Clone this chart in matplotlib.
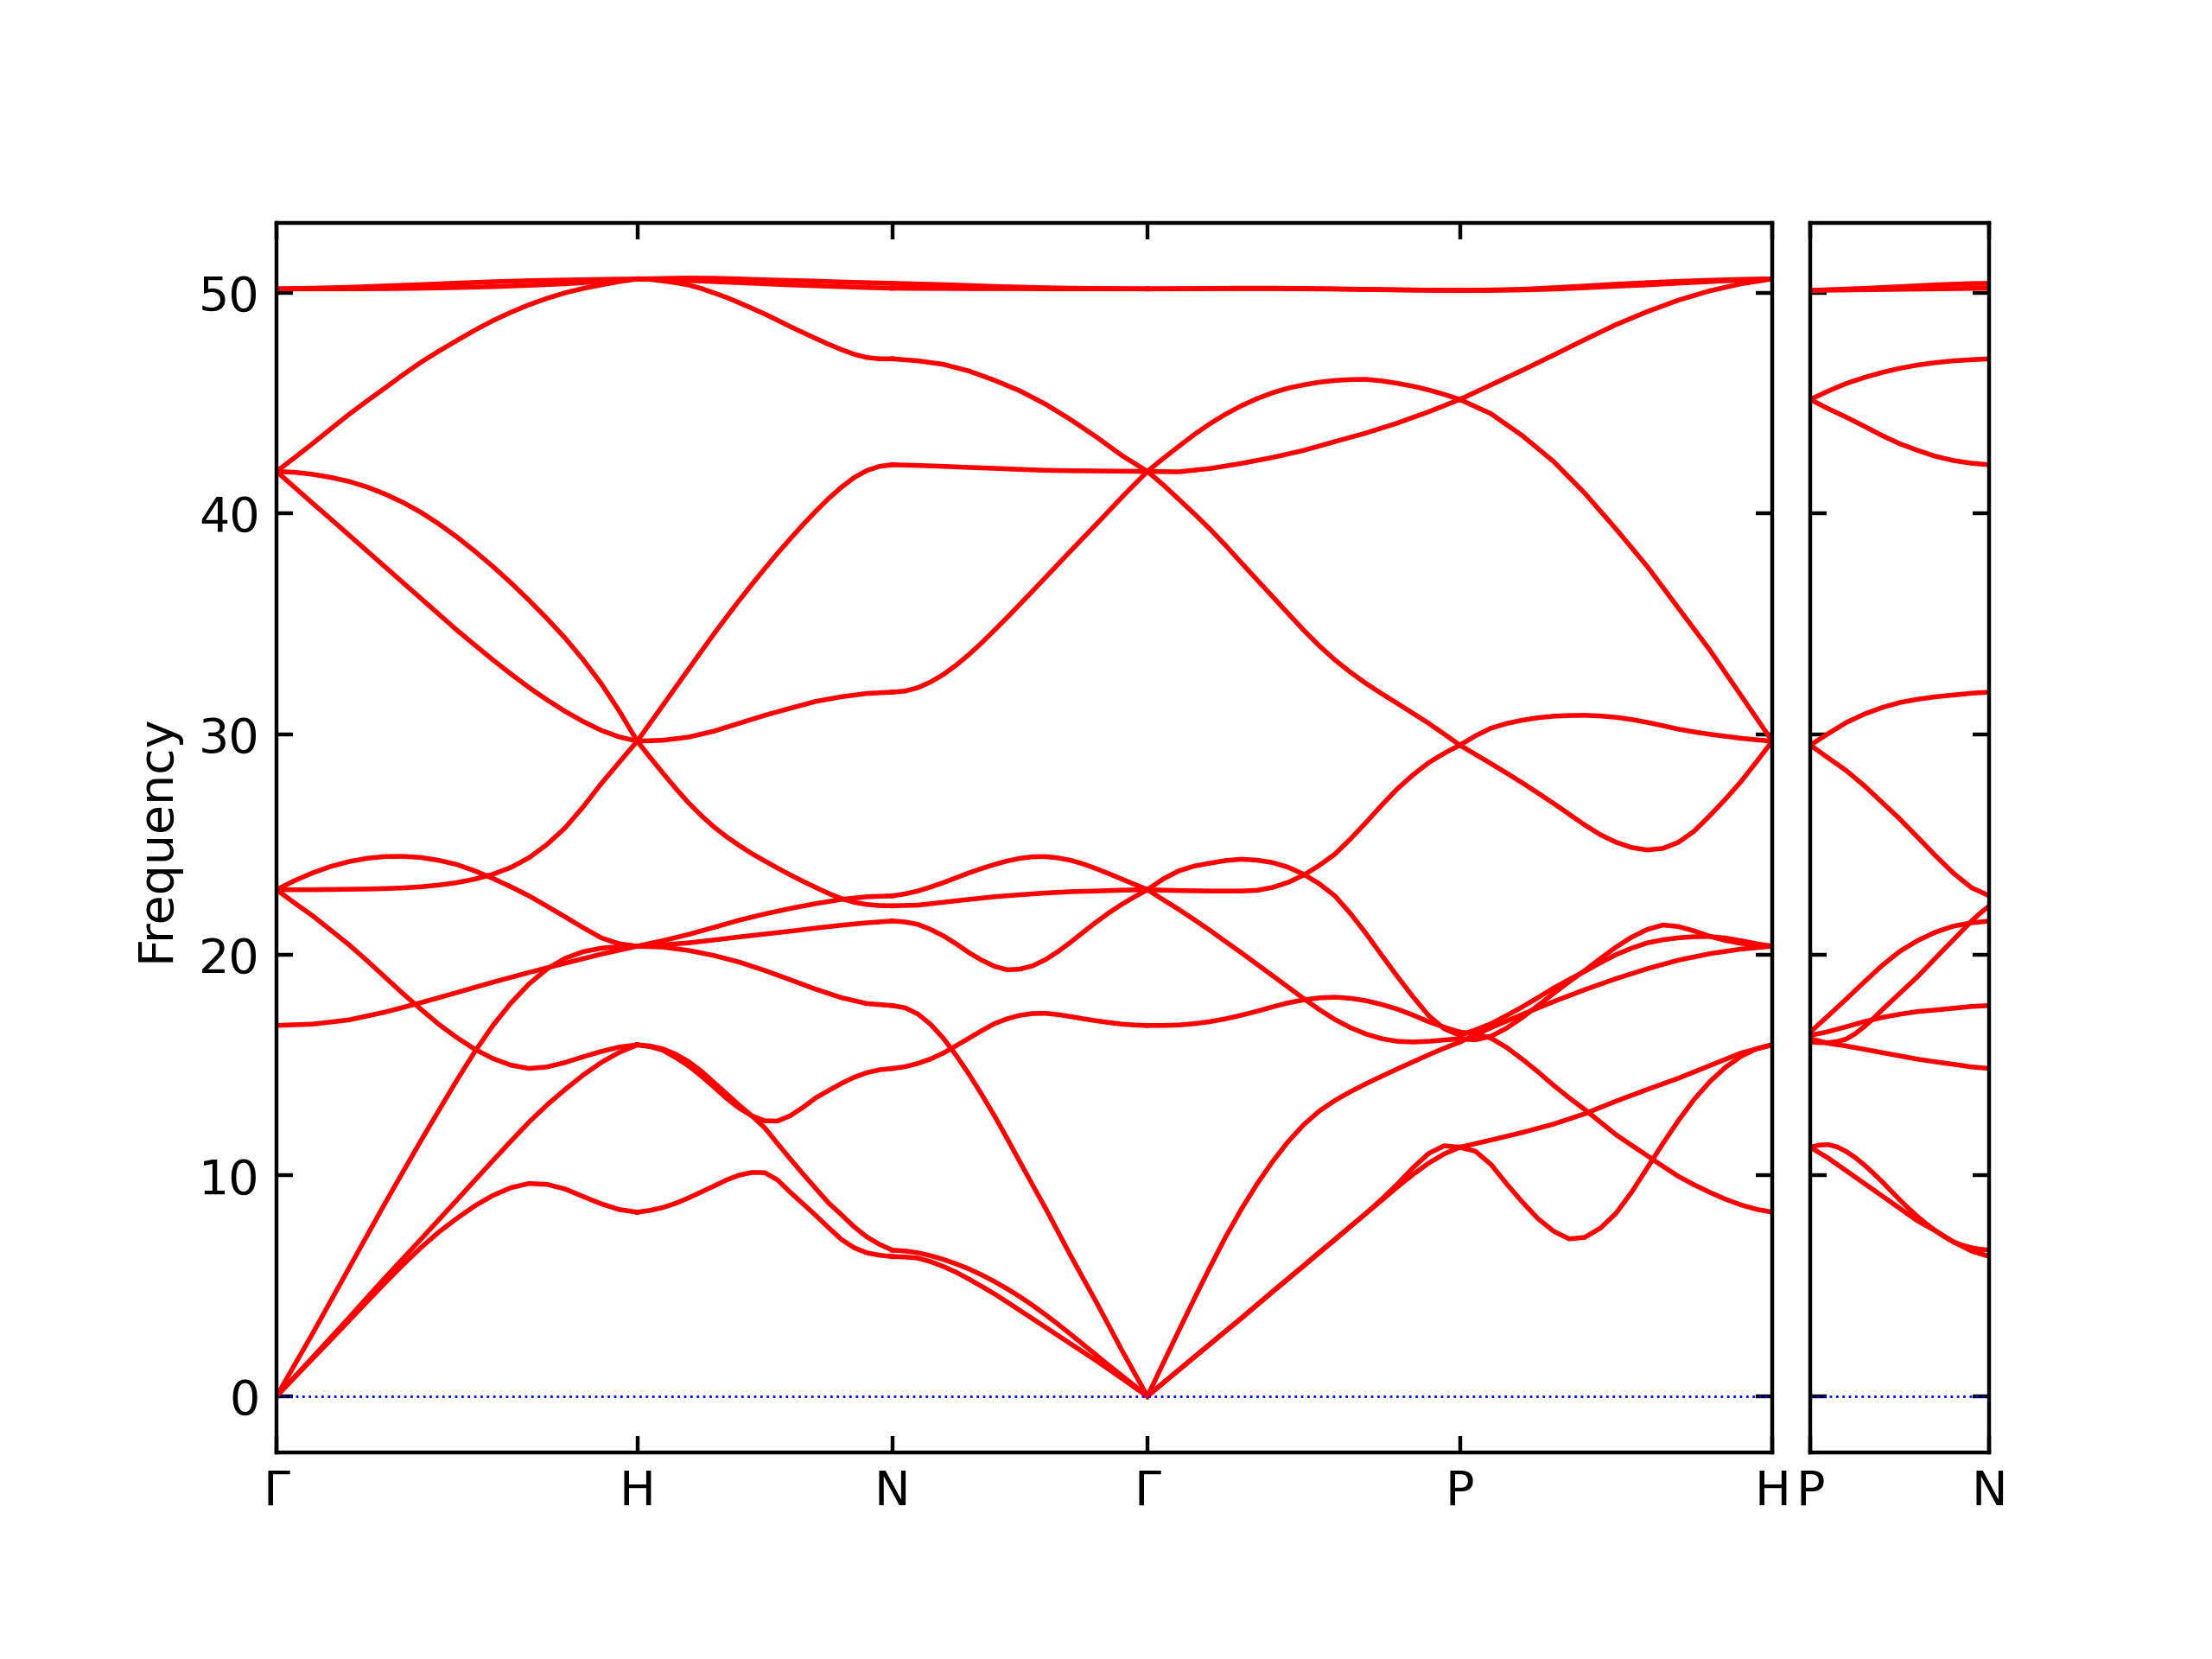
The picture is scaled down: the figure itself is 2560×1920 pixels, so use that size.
import matplotlib
matplotlib.use("Agg")
import matplotlib.pyplot as plt
import numpy as np

# bcc path: Γ-H-N-Γ-P-H | P-N, segment lengths in reciprocal distance
path_labels = ["Γ", "H", "N", "Γ", "P", "H"]
branch_labels = ["P", "N"]
seg_lengths = [1.0, 0.7071, 0.7071, 0.8660, 0.8660]
branch_length = 0.5

# every band is read at evenly spaced points along its segment
# (11 points, or 21 where the curve bends a lot)

G_H = [
    [50.17, 50.20, 50.24, 50.30, 50.36, 50.43, 50.49, 50.54, 50.57, 50.60, 50.62],
    [50.17, 50.17, 50.17, 50.18, 50.20, 50.23, 50.27, 50.33, 50.40, 50.50, 50.62],
    [41.90, 42.52, 43.16, 43.82, 44.47, 45.08, 45.67, 46.27, 46.84, 47.35, 47.83,
     48.30, 48.73, 49.11, 49.45, 49.74, 49.99, 50.19, 50.35, 50.50, 50.62],
    [41.90, 41.86, 41.77, 41.63, 41.45, 41.20, 40.88, 40.50, 40.05, 39.52, 38.93,
     38.28, 37.59, 36.85, 36.06, 35.23, 34.35, 33.37, 32.29, 31.05, 29.68],
    [41.90, 41.18, 40.46, 39.75, 39.03, 38.31, 37.59, 36.87, 36.15, 35.43, 34.71,
     34.03, 33.36, 32.72, 32.11, 31.55, 31.03, 30.57, 30.17, 29.87, 29.68],
    [22.95, 22.95, 22.95, 22.96, 22.97, 22.98, 23.00, 23.03, 23.08, 23.16, 23.27,
     23.43, 23.65, 23.96, 24.40, 25.00, 25.75, 26.70, 27.75, 28.72, 29.68],
    [22.95, 23.36, 23.71, 24.00, 24.22, 24.37, 24.45, 24.46, 24.41, 24.28, 24.09,
     23.80, 23.46, 23.08, 22.67, 22.20, 21.72, 21.23, 20.77, 20.50, 20.39],
    [22.95, 22.35, 21.77, 21.12, 20.47, 19.75, 19.00, 18.25, 17.54, 16.85, 16.25,
     15.72, 15.30, 15.00, 14.85, 14.92, 15.12, 15.38, 15.62, 15.82, 15.92],
    [0.00, 1.42, 2.84, 4.31, 5.78, 7.25, 8.72, 10.15, 11.57, 12.95, 14.32,
     15.62, 16.80, 17.82, 18.68, 19.36, 19.84, 20.14, 20.30, 20.37, 20.39],
    [16.80, 16.86, 17.05, 17.40, 17.83, 18.29, 18.76, 19.20, 19.62, 20.03, 20.39],
    [0.00, 0.88, 1.76, 2.65, 3.54, 4.45, 5.35, 6.23, 7.11, 8.00, 8.89,
     9.79, 10.68, 11.56, 12.42, 13.20, 13.90, 14.55, 15.12, 15.58, 15.92],
    [0.00, 0.85, 1.70, 2.55, 3.41, 4.27, 5.12, 5.95, 6.73, 7.44, 8.06,
     8.63, 9.10, 9.45, 9.64, 9.60, 9.39, 9.05, 8.72, 8.46, 8.34],
]

H_N = [
    [50.62, 50.64, 50.66, 50.65, 50.62, 50.58, 50.55, 50.52, 50.48, 50.45, 50.42],
    [50.62, 50.59, 50.55, 50.50, 50.45, 50.40, 50.35, 50.31, 50.27, 50.23, 50.20],
    [50.62, 50.60, 50.53, 50.45, 50.35, 50.19, 49.99, 49.78, 49.54, 49.29, 49.03,
     48.75, 48.46, 48.19, 47.92, 47.66, 47.42, 47.21, 47.06, 47.00, 47.00],
    [29.68, 30.49, 31.30, 32.11, 32.92, 33.73, 34.53, 35.30, 36.06, 36.79, 37.50,
     38.19, 38.85, 39.49, 40.10, 40.67, 41.18, 41.62, 41.94, 42.13, 42.20],
    [29.68, 29.72, 29.86, 30.13, 30.49, 30.85, 31.17, 31.48, 31.69, 31.84, 31.90],
    [29.68, 28.95, 28.24, 27.55, 26.90, 26.32, 25.80, 25.35, 24.95, 24.58, 24.25,
     23.93, 23.62, 23.33, 23.05, 22.78, 22.55, 22.38, 22.28, 22.23, 22.22],
    [20.39, 20.64, 20.92, 21.24, 21.57, 21.85, 22.10, 22.32, 22.51, 22.63, 22.67],
    [20.39, 20.45, 20.54, 20.67, 20.81, 20.94, 21.07, 21.21, 21.34, 21.45, 21.53],
    [20.39, 20.35, 20.20, 19.97, 19.67, 19.29, 18.87, 18.44, 18.06, 17.79, 17.70],
    [15.92, 15.84, 15.68, 15.35, 14.98, 14.52, 14.02, 13.50, 13.05, 12.70, 12.48,
     12.47, 12.71, 13.09, 13.52, 13.85, 14.17, 14.45, 14.66, 14.79, 14.85],
    [15.92, 15.87, 15.74, 15.50, 15.17, 14.74, 14.22, 13.71, 13.18, 12.70, 12.16,
     11.45, 10.75, 10.07, 9.41, 8.76, 8.23, 7.68, 7.22, 6.88, 6.62],
    [8.34, 8.42, 8.55, 8.74, 8.98, 9.25, 9.52, 9.80, 10.02, 10.14, 10.13,
     9.80, 9.24, 8.72, 8.19, 7.64, 7.11, 6.73, 6.50, 6.39, 6.33],
]

N_G = [
    [50.42, 50.39, 50.36, 50.32, 50.28, 50.25, 50.22, 50.20, 50.19, 50.18, 50.17],
    [50.20, 50.19, 50.19, 50.18, 50.18, 50.18, 50.17, 50.17, 50.17, 50.17, 50.17],
    [47.00, 46.91, 46.75, 46.45, 46.03, 45.55, 44.95, 44.24, 43.46, 42.62, 41.90],
    [42.20, 42.17, 42.13, 42.08, 42.04, 41.99, 41.95, 41.93, 41.92, 41.91, 41.90],
    [31.90, 31.95, 32.10, 32.36, 32.70, 33.12, 33.60, 34.13, 34.70, 35.28, 35.88,
     36.48, 37.09, 37.70, 38.31, 38.91, 39.51, 40.12, 40.73, 41.32, 41.90],
    [22.67, 22.76, 22.89, 23.07, 23.27, 23.49, 23.71, 23.91, 24.09, 24.25, 24.37,
     24.44, 24.45, 24.39, 24.28, 24.11, 23.90, 23.67, 23.43, 23.19, 22.95],
    [22.22, 22.25, 22.38, 22.51, 22.63, 22.72, 22.80, 22.86, 22.89, 22.93, 22.95],
    [21.53, 21.49, 21.38, 21.15, 20.86, 20.50, 20.10, 19.76, 19.48, 19.32, 19.35,
     19.50, 19.78, 20.15, 20.58, 21.04, 21.49, 21.91, 22.29, 22.63, 22.95],
    [17.70, 17.60, 17.32, 16.85, 16.22, 15.45, 14.60, 13.68, 12.71, 11.68, 10.62,
     9.57, 8.53, 7.44, 6.35, 5.30, 4.26, 3.17, 2.08, 1.04, 0.00],
    [14.85, 14.93, 15.08, 15.28, 15.55, 15.88, 16.22, 16.56, 16.88, 17.10, 17.26,
     17.34, 17.35, 17.29, 17.20, 17.10, 17.01, 16.93, 16.86, 16.82, 16.80],
    [6.62, 6.58, 6.50, 6.37, 6.20, 6.00, 5.77, 5.50, 5.20, 4.87, 4.51,
     4.12, 3.70, 3.26, 2.80, 2.33, 1.86, 1.39, 0.93, 0.47, 0.00],
    [6.33, 6.31, 6.26, 6.10, 5.88, 5.62, 5.31, 4.98, 4.64, 4.27, 3.89,
     3.51, 3.13, 2.75, 2.37, 1.99, 1.61, 1.21, 0.81, 0.40, 0.00],
]

G_P = [
    [50.17, 50.18, 50.19, 50.20, 50.20, 50.19, 50.17, 50.15, 50.13, 50.11, 50.10],
    [50.17, 50.17, 50.18, 50.18, 50.18, 50.17, 50.16, 50.14, 50.12, 50.11, 50.10],
    [41.90, 42.48, 43.03, 43.57, 44.06, 44.49, 44.87, 45.19, 45.46, 45.67, 45.82,
     45.94, 46.02, 46.06, 46.07, 46.00, 45.89, 45.76, 45.59, 45.39, 45.16],
    [41.90, 41.88, 42.03, 42.26, 42.53, 42.85, 43.25, 43.64, 44.09, 44.60, 45.16],
    [41.90, 41.30, 40.64, 39.98, 39.29, 38.55, 37.77, 37.00, 36.24, 35.47, 34.71,
     34.00, 33.36, 32.80, 32.29, 31.83, 31.39, 30.94, 30.49, 30.00, 29.50],
    [22.95, 22.93, 22.91, 22.90, 22.89, 22.89, 22.89, 22.92, 23.05, 23.28, 23.61,
     24.05, 24.56, 25.25, 26.00, 26.78, 27.52, 28.15, 28.70, 29.13, 29.50],
    [22.95, 23.43, 23.80, 24.02, 24.15, 24.27, 24.33, 24.29, 24.18, 23.97, 23.65,
     23.22, 22.67, 21.87, 20.96, 19.98, 19.02, 18.10, 17.25, 16.65, 16.35],
    [22.95, 22.50, 22.06, 21.59, 21.11, 20.60, 20.10, 19.58, 19.06, 18.54, 18.02,
     17.52, 17.07, 16.70, 16.41, 16.20, 16.08, 16.05, 16.08, 16.14, 16.20],
    [16.80, 16.80, 16.82, 16.88, 16.97, 17.10, 17.26, 17.44, 17.64, 17.82, 17.96,
     18.05, 18.08, 18.03, 17.92, 17.75, 17.54, 17.27, 16.97, 16.72, 16.50],
    [0.00, 1.48, 2.96, 4.42, 5.84, 7.21, 8.46, 9.60, 10.62, 11.53, 12.30,
     12.92, 13.40, 13.80, 14.16, 14.50, 14.83, 15.15, 15.47, 15.77, 16.05],
    [0.00, 0.60, 1.19, 1.78, 2.37, 2.95, 3.54, 4.14, 4.74, 5.33, 5.92,
     6.52, 7.11, 7.70, 8.29, 8.88, 9.48, 10.05, 10.56, 10.98, 11.28],
    [0.00, 0.60, 1.18, 1.77, 2.35, 2.94, 3.52, 4.12, 4.72, 5.31, 5.90,
     6.50, 7.09, 7.69, 8.29, 8.93, 9.61, 10.35, 11.00, 11.35, 11.28],
]

P_H = [
    [50.10, 50.12, 50.15, 50.22, 50.30, 50.38, 50.45, 50.51, 50.56, 50.60, 50.62],
    [50.10, 50.10, 50.12, 50.16, 50.22, 50.29, 50.35, 50.43, 50.50, 50.57, 50.62],
    [45.16, 45.82, 46.48, 47.17, 47.87, 48.55, 49.14, 49.66, 50.08, 50.40, 50.62],
    [45.16, 44.51, 43.52, 42.35, 40.91, 39.29, 37.59, 35.70, 33.81, 31.75, 29.68],
    [29.50, 29.92, 30.27, 30.48, 30.63, 30.74, 30.81, 30.84, 30.85, 30.82, 30.76,
     30.66, 30.53, 30.38, 30.22, 30.10, 29.99, 29.90, 29.81, 29.74, 29.68],
    [29.50, 29.08, 28.66, 28.23, 27.79, 27.33, 26.86, 26.37, 25.88, 25.44, 25.10,
     24.86, 24.75, 24.82, 25.10, 25.60, 26.30, 27.05, 27.85, 28.75, 29.68],
    [16.20, 16.15, 16.31, 16.68, 17.16, 17.70, 18.25, 18.78, 19.29, 19.83, 20.35,
     20.80, 21.15, 21.35, 21.28, 21.08, 20.84, 20.65, 20.52, 20.44, 20.39],
    [16.35, 16.60, 16.88, 17.25, 17.64, 18.06, 18.49, 18.88, 19.25, 19.64, 20.01,
     20.30, 20.54, 20.68, 20.77, 20.82, 20.83, 20.76, 20.64, 20.50, 20.39],
    [16.05, 16.70, 17.30, 17.88, 18.42, 18.92, 19.37, 19.76, 20.05, 20.26, 20.39],
    [16.50, 16.42, 16.22, 15.80, 15.27, 14.70, 14.09, 13.52, 12.99, 12.42, 11.85,
     11.37, 10.90, 10.42, 9.96, 9.58, 9.24, 8.93, 8.67, 8.47, 8.34],
    [11.28, 11.10, 10.50, 9.62, 8.80, 8.05, 7.48, 7.13, 7.20, 7.62, 8.29,
     9.25, 10.35, 11.45, 12.50, 13.45, 14.25, 14.90, 15.40, 15.75, 15.93],
    [11.28, 11.61, 11.95, 12.33, 12.80, 13.37, 13.90, 14.41, 14.98, 15.55, 15.92],
]

P_N = [
    [50.10, 50.13, 50.16, 50.19, 50.23, 50.27, 50.31, 50.35, 50.38, 50.41, 50.42],
    [50.10, 50.11, 50.12, 50.13, 50.14, 50.15, 50.16, 50.17, 50.18, 50.19, 50.20],
    [45.16, 45.54, 45.88, 46.15, 46.38, 46.57, 46.72, 46.83, 46.91, 46.96, 47.00],
    [45.16, 44.74, 44.36, 43.95, 43.53, 43.15, 42.85, 42.58, 42.39, 42.27, 42.20],
    [29.50, 30.02, 30.52, 30.90, 31.20, 31.43, 31.58, 31.69, 31.77, 31.85, 31.90],
    [29.50, 28.92, 28.35, 27.67, 26.91, 26.15, 25.32, 24.48, 23.69, 23.04, 22.67],
    [16.50, 17.24, 17.99, 18.76, 19.51, 20.16, 20.65, 21.03, 21.30, 21.45, 21.53],
    [16.05, 16.02, 16.02, 16.07, 16.18, 16.42, 16.74, 17.10, 17.50, 17.88, 18.26,
     18.64, 19.02, 19.44, 19.86, 20.28, 20.69, 21.11, 21.53, 21.90, 22.22],
    [16.35, 16.52, 16.74, 16.97, 17.16, 17.31, 17.43, 17.50, 17.58, 17.66, 17.70],
    [16.20, 15.99, 15.87, 15.72, 15.57, 15.42, 15.27, 15.15, 15.04, 14.92, 14.85],
    [11.28, 11.38, 11.40, 11.30, 11.09, 10.82, 10.49, 10.12, 9.73, 9.31, 8.89,
     8.50, 8.13, 7.80, 7.49, 7.22, 6.99, 6.84, 6.73, 6.66, 6.62],
    [11.28, 10.79, 10.22, 9.65, 9.08, 8.51, 7.94, 7.49, 6.99, 6.58, 6.33],
]

main_segments = [G_H, H_N, N_G, G_P, P_H]

fig = plt.figure(figsize=(6.4, 4.8), dpi=400)
ax1 = fig.add_axes([0.125, 0.1247, 0.6762, 0.7407])
ax2 = fig.add_axes([0.8184, 0.1247, 0.0810, 0.7407], sharey=ax1)

# main path
starts = np.concatenate([[0.0], np.cumsum(seg_lengths)])
for seg, x0, length in zip(main_segments, starts[:-1], seg_lengths):
    for band in seg:
        q = x0 + np.linspace(0.0, 1.0, len(band)) * length
        ax1.plot(q, band, color="r", linewidth=1.0)

# separate branch P-N
for band in P_N:
    q = np.linspace(0.0, 1.0, len(band)) * branch_length
    ax2.plot(q, band, color="r", linewidth=1.0)

for ax in (ax1, ax2):
    ax.axhline(y=0, linestyle=":", linewidth=0.5, color="b")
    ax.xaxis.set_ticks_position("both")
    ax.yaxis.set_ticks_position("both")
    ax.tick_params(which="both", direction="in")

ax1.set_xlim(starts[0], starts[-1])
ax1.set_xticks(starts)
ax1.set_xticklabels(path_labels)
ax1.set_ylim(-2.53, 53.14)
ax1.set_yticks([0, 10, 20, 30, 40, 50])
ax1.set_ylabel("Frequency")

ax2.set_xlim(0, branch_length)
ax2.set_xticks([0, branch_length])
ax2.set_xticklabels(branch_labels)
ax2.tick_params(labelleft=False)

fig.savefig("out.png", dpi=400)
